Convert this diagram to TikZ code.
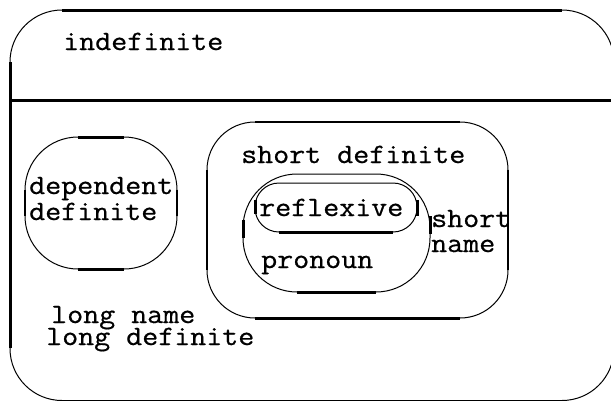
\documentclass[tikz,border=0pt]{standalone}
\usepackage{graphicx}
\usepackage{fontspec}
\newfontfamily\diagtt{Latin Modern Mono}[FakeBold=0.6]
\newcommand{\widett}[1]{\scalebox{1.11}[1]{\fontsize{28}{24}\selectfont\diagtt #1}}
\tikzset{
  arcline/.style={line width=1pt},
  midline/.style={line width=2pt},
  heavyline/.style={line width=3pt},
  lbl/.style={inner sep=0pt, anchor=base west},
}
\begin{document}
\begin{tikzpicture}[x=1pt,y=-1pt]
\useasboundingbox (0,0) rectangle (611,400);
\clip (0,0) rectangle (611,400);

% outer state with its two regions
\coordinate (oNW) at (10,10);
\coordinate (oSE) at (614,400.5);
\draw[arcline, rounded corners=52] (oNW) rectangle (oSE);
\draw[heavyline] (62,10) -- (562,10);
\draw[heavyline] (10,62) -- (10,348);
\coordinate (divL) at (10,100);
\coordinate (divR) at (611,100);
\draw[heavyline] (divL) -- (divR);

% dependent definite
\coordinate (dNW) at (25,137);
\coordinate (dSE) at (177,269);
\draw[arcline, rounded corners=53] (dNW) rectangle (dSE);
\draw[heavyline] (78,137) -- (124,137);
\draw[heavyline] (78,269) -- (124,269);
\draw[midline] (25,190) -- (25,216);
\draw[midline] (177,190) -- (177,216);

% short definite
\coordinate (sNW) at (207,122);
\coordinate (sSE) at (508,318);
\draw[arcline, rounded corners=48] (sNW) rectangle (sSE);
\draw[midline] (255,122) -- (460,122);
\draw[heavyline] (255,318) -- (460,318);
\draw[midline] (207,170) -- (207,270);
\draw[midline] (508,170) -- (508,270);

% pronoun
\coordinate (pNW) at (243,174);
\coordinate (pSE) at (430,292);
\draw[arcline, rounded corners=54] (pNW) rectangle (pSE);
\draw[heavyline] (297,292) -- (376,292);
\draw[heavyline] (243,220) -- (243,238);
\draw[heavyline] (430,216) -- (430,234);

% reflexive
\coordinate (rNW) at (255,183);
\coordinate (rSE) at (417,232);
\draw[arcline, rounded corners=24] (rNW) rectangle (rSE);
\draw[heavyline] (279,232) -- (393,232);
\draw[heavyline] (417,200) -- (417,216);
\draw[heavyline] (255,200) -- (255,214);

% labels
\node[lbl] (tIndef) at (63,50) {\widett{indefinite}};
\node[lbl] (tDep1) at (29,194) {\widett{dependent}};
\node[lbl] (tDep2) at (29,220) {\widett{definite}};
\node[lbl] (tShortDef) at (241,163) {\widett{short definite}};
\node[lbl] (tRefl) at (259,216) {\widett{reflexive}};
\node[lbl] (tPron) at (261,268) {\widett{pronoun}};
\node[lbl] (tSn1) at (431,227) {\widett{short}};
\node[lbl] (tSn2) at (431,252) {\widett{name}};
\node[lbl] (tLn1) at (51,323) {\widett{long name}};
\node[lbl] (tLn2) at (46,345) {\widett{long definite}};
\end{tikzpicture}
\end{document}
